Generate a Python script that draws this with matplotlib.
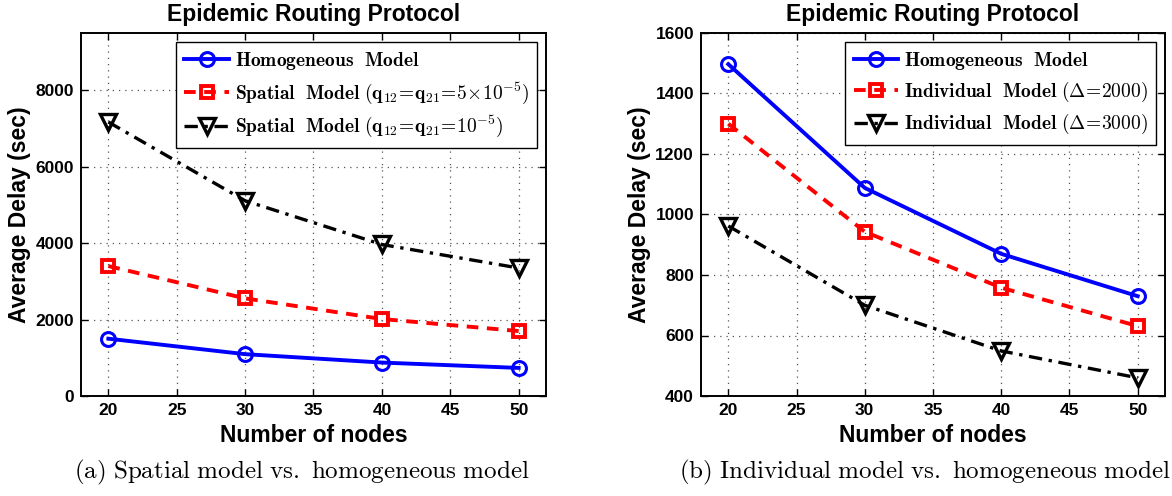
import matplotlib
matplotlib.use("Agg")
import matplotlib.pyplot as plt

plt.rcParams['mathtext.fontset'] = 'cm'
plt.rcParams['font.family'] = ['Liberation Sans', 'DejaVu Sans']

nodes = [20, 30, 40, 50]
x_ticks = [20, 25, 30, 35, 40, 45, 50]

# (a) spatial vs homogeneous
homog = [1500, 1095, 875, 735]
spatial_5e5 = [3400, 2555, 2015, 1700]
spatial_1e5 = [7170, 5110, 3965, 3350]
ticks_a = [0, 2000, 4000, 6000, 8000]

# (b) individual vs homogeneous
homog_b = [1497, 1088, 870, 730]
indiv_2000 = [1300, 943, 758, 631]
indiv_3000 = [962, 700, 549, 460]
ticks_b = [400, 600, 800, 1000, 1200, 1400, 1600]

labels_a = [r'$\mathbf{Homogeneous\ \ Model}$',
            r'$\mathbf{Spatial\ \ Model\ (q_{12}\!=\!q_{21}\!=\!5\!\times\!10^{-5})}$',
            r'$\mathbf{Spatial\ \ Model\ (q_{12}\!=\!q_{21}\!=\!10^{-5})}$']
labels_b = [r'$\mathbf{Homogeneous\ \ Model}$',
            r'$\mathbf{Individual\ \ Model\ (\Delta\!=\!2000)}$',
            r'$\mathbf{Individual\ \ Model\ (\Delta\!=\!3000)}$']

W, H = 1172, 496
fig = plt.figure(figsize=(W / 100, H / 100), dpi=100)
ax1 = fig.add_axes([81 / W, 1 - 396 / H, 465 / W, 363 / H])
ax2 = fig.add_axes([701 / W, 1 - 396 / H, 464 / W, 363 / H])

styles = [dict(color='#0000ff', ls='-', marker='o', ms=10, lw=2.8, mew=2.2, mfc='none'),
          dict(color='#ff0000', ls=(0, (3.0, 2.2)), marker='s', ms=9, lw=2.8, mew=2.8, mfc='none'),
          dict(color='black', ls=(0, (4.0, 2.0, 1.0, 2.0)), marker='v', ms=12, lw=2.4, mew=2.4, mfc='none')]


def setup(ax, series, labels, yticks, ylim):
    for s, lab, st in zip(series, labels, styles):
        ax.plot(nodes, s, label=lab, **st)
    ax.set_xlim(18, 52)
    ax.set_ylim(*ylim)
    ax.set_xticks(x_ticks)
    ax.set_yticks(yticks)
    ax.grid(True, ls=(0, (1, 4)), color='#555555', lw=0.9)
    ax.tick_params(direction='in', top=True, right=True, length=5, width=1.0,
                   labelsize=12.5, pad=5)
    for lab in ax.get_xticklabels() + ax.get_yticklabels():
        lab.set_fontweight('bold')
    for sp in ax.spines.values():
        sp.set_linewidth(1.4)
    ax.set_title('Epidemic Routing Protocol', fontsize=16.5, fontweight='bold', pad=9)
    ax.set_xlabel('Number of nodes', fontsize=16.5, fontweight='bold', labelpad=4)
    ax.set_ylabel('Average Delay (sec)', fontsize=16.5, fontweight='bold', labelpad=3)
    leg = ax.legend(loc='upper right', fontsize=14, frameon=True, fancybox=False,
                    edgecolor='black', framealpha=1, handlelength=2.3,
                    labelspacing=0.42, borderaxespad=0.45, borderpad=0.42,
                    handletextpad=0.3)
    leg.get_frame().set_linewidth(1.0)


setup(ax1, [homog, spatial_5e5, spatial_1e5], labels_a, ticks_a, (0, 9500))
setup(ax2, [homog_b, indiv_2000, indiv_3000], labels_b, ticks_b, (400, 1600))

fig.text(302 / W, 1 - 472 / H, r'$\mathrm{(a)\ Spatial\ model\ vs.\ homogeneous\ model}$',
         ha='center', va='center', fontsize=18)
fig.text(925 / W, 1 - 472 / H, r'$\mathrm{(b)\ Individual\ model\ vs.\ homogeneous\ model}$',
         ha='center', va='center', fontsize=18)

fig.savefig('out.png', dpi=100)
